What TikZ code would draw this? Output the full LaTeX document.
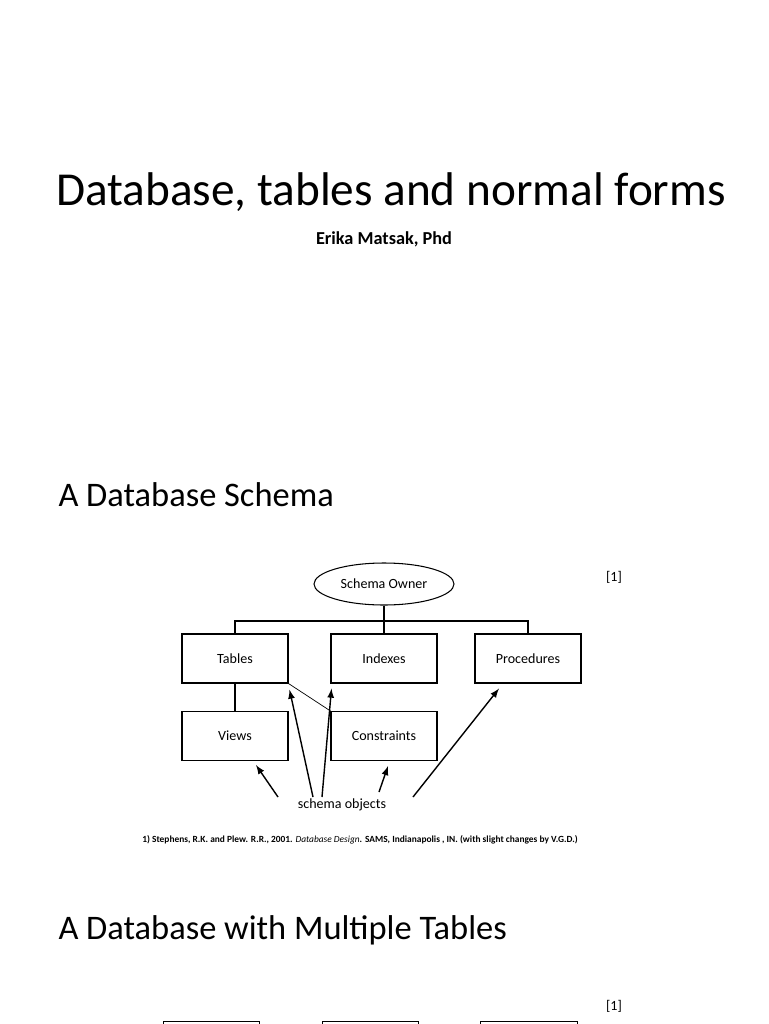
\documentclass[tikz,border=0pt]{standalone}
\usepackage{fontspec}
\setmainfont{Carlito}
\usetikzlibrary{shapes.geometric}
\tikzset{
  box/.style={draw, line width=0.6pt, minimum width=2.12cm, minimum height=0.98cm, inner sep=0pt, font=\fontsize{8}{9}\selectfont},
  owner/.style={draw, line width=0.6pt, ellipse, minimum width=2.8cm, minimum height=0.84cm, inner sep=0pt, font=\fontsize{8}{9}\selectfont},
  heading/.style={anchor=base west, inner sep=0pt, font=\fontsize{19.6}{23}\selectfont},
  ref/.style={anchor=base, inner sep=0pt, font=\fontsize{8}{9}\selectfont}
}
\begin{document}
\begin{tikzpicture}[x=0.02cm, y=-0.02cm, >=latex, line width=0.6pt]
% Seite 768 x 1024
\useasboundingbox (0,0) rectangle (768,1024);
\clip (0,0) rectangle (768,1024);
% Titel
\node[anchor=base, inner sep=0pt, font=\fontsize{26.9}{32}\selectfont] (title) at (391,205.7) {Database, tables and normal forms};
\node[anchor=base, inner sep=0pt, font=\bfseries\fontsize{10.4}{12}\selectfont] (author) at (384,244) {Erika Matsak, Phd};
% Abschnitt 1
\node[heading] (head1) at (58,506.7) {A Database Schema};
\node[ref] (ref1) at (614,581) {[1]};
\node[owner] (owner) at (384,584) {Schema Owner};
\node[box] (tables)      at (235,658.5) {Tables};
\node[box] (indexes)     at (384,658.5) {Indexes};
\node[box] (procedures)  at (528,658.5) {Procedures};
\node[box] (views)       at (235,736)   {Views};
\node[box] (constraints) at (384,736)   {Constraints};
% Verbindungen
\coordinate (bus) at (384,621);
\draw (owner) -- (indexes);
\draw (tables.north) -- (tables.north |- bus) -- (procedures.north |- bus) -- (procedures.north);
\draw (tables) -- (views);
\draw[line width=0.4pt] (tables.south east) -- (constraints.north west);
% schema objects mit Pfeilen
\node[inner sep=0pt, font=\fontsize{8}{9}\selectfont] (objects) at (342,805) {schema objects};
\coordinate (t1) at (278,797);
\coordinate (t2) at (313,797);
\coordinate (t3) at (322,797);
\coordinate (t4) at (379,792);
\coordinate (t5) at (413,797);
\draw[->, line width=0.8pt] (t1) -- ([shift={(21,4)}]views.south);
\draw[->, line width=0.8pt] (t2) -- ([shift={(1,6)}]tables.south east);
\draw[->, line width=0.8pt] (t3) -- ([shift={(1,5)}]indexes.south west);
\draw[->, line width=0.8pt] (t4) -- ([shift={(4,5)}]constraints.south);
\draw[->, line width=0.8pt] (t5) -- ([shift={(-29,5)}]procedures.south);
% Quelle
\node[anchor=base, inner sep=0pt, font=\bfseries\fontsize{5.35}{6}\selectfont] (source) at (360,842) {1) Stephens, R.K. and Plew. R.R., 2001. {\mdseries\itshape Database Design}. SAMS, Indianapolis , IN. (with slight changes by V.G.D.)};
% Abschnitt 2
\node[heading] (head2) at (58,939.3) {A Database with Multiple Tables};
\node[ref] (ref2) at (614,1010) {[1]};
\node[box, minimum width=1.92cm, anchor=north west] (tab1) at (163,1021) {};
\node[box, minimum width=1.92cm, anchor=north west] (tab2) at (322,1021) {};
\node[box, minimum width=1.94cm, anchor=north west] (tab3) at (480,1021) {};
\end{tikzpicture}
\end{document}
